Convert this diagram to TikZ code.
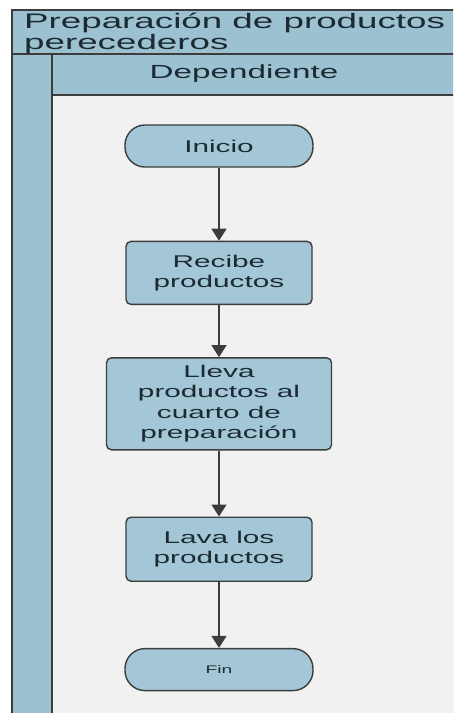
\documentclass[tikz,border=0pt]{standalone}
\usepackage{fontspec}
\setmainfont{Liberation Sans}
\newfontfamily\lanefont[FakeStretch=1.75]{Liberation Sans}
\usepackage{tikz}
\usetikzlibrary{arrows.meta,positioning}
\definecolor{laneblue}{HTML}{9CC1D1}
\definecolor{boxblue}{HTML}{A3C7D6}
\definecolor{darkgray}{HTML}{3C3C3C}
\definecolor{lanegray}{HTML}{F1F1F1}
\definecolor{inktext}{HTML}{1C2A33}

\begin{document}
\begin{tikzpicture}[
  x=1pt, y=-1pt,
  node distance=60pt,
  terminal/.style={rectangle, rounded corners=20pt, draw=darkgray, line width=1.4pt, fill=boxblue, text=inktext, align=center, minimum width=188pt, minimum height=42pt, font=\lanefont\fontsize{17}{20}\selectfont},
  process/.style={rectangle, rounded corners=5pt, draw=darkgray, line width=1.4pt, fill=boxblue, text=inktext, align=center, minimum width=186pt, minimum height=63pt, inner sep=2pt, font=\lanefont\fontsize{17}{20.5}\selectfont},
  arrow/.style={-{Triangle[length=12pt, width=15pt]}, line width=1.4pt, draw=darkgray}
]
\useasboundingbox (0,0) rectangle (453,713);
\clip (0,0) rectangle (453,713);

% pool and lane
\fill[white] (0,0) rectangle (453,713);
\draw[line width=1.4pt, draw=darkgray, fill=laneblue] (12,10) rectangle (470,730);
\draw[line width=1.4pt, draw=darkgray, fill=lanegray] (52,95) rectangle (470,730);
\draw[line width=1.4pt, draw=darkgray] (12,54) -- (470,54);
\draw[line width=1.4pt, draw=darkgray] (52,54) -- (52,730);

\node[anchor=north west, align=left, inner sep=0pt, font=\lanefont\fontsize{21}{20.5}\selectfont, text=inktext] (pool) at (24,13) {Preparación de productos\\perecederos};
\node[font=\lanefont\fontsize{19}{22}\selectfont, text=inktext] (lane) at (244,74) {Dependiente};

% flow
\node[terminal] (inicio) at (219,146) {Inicio};
\node[process, below=73pt of inicio] (recibe) {Recibe\\productos};
\node[process, below=52pt of recibe, minimum width=225pt, minimum height=92pt] (lleva) {Lleva\\productos al\\cuarto de\\preparación};
\node[process, below=66pt of lleva, minimum height=64pt] (lava) {Lava los\\productos};
\node[terminal, below=66pt of lava, font=\lanefont\fontsize{11}{13}\selectfont] (fin) {Fin};

\draw[arrow] (inicio) -- (recibe);
\draw[arrow] (recibe) -- (lleva);
\draw[arrow] (lleva) -- (lava);
\draw[arrow] (lava) -- (fin);

\end{tikzpicture}
\end{document}
